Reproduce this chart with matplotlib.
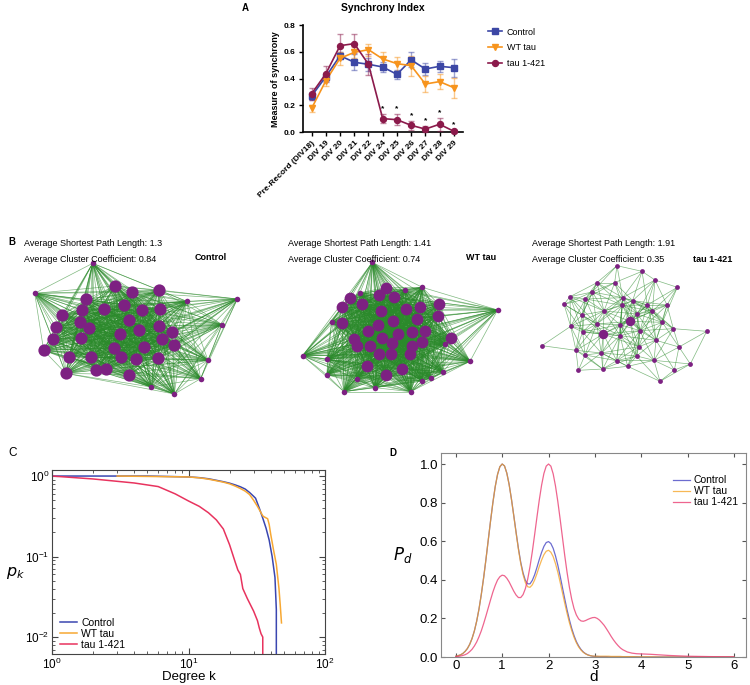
import numpy as np
import matplotlib.pyplot as plt
from matplotlib.collections import LineCollection
from matplotlib.lines import Line2D
from matplotlib.colors import to_rgba

plt.rcParams['font.family'] = ['Liberation Sans', 'DejaVu Sans']
plt.rcParams['mathtext.default'] = 'regular'

# ---------------- data: panel A (synchrony index)
days = ['Pre-Record (DIV18)', 'DIV 19', 'DIV 20', 'DIV 21', 'DIV 22', 'DIV 24',
        'DIV 25', 'DIV 26', 'DIV 27', 'DIV 28', 'DIV 29']
sync_ctrl = [0.271, 0.415, 0.571, 0.522, 0.507, 0.487, 0.432, 0.540, 0.472, 0.492, 0.482]
err_ctrl = [0.030, 0.030, 0.025, 0.060, 0.050, 0.040, 0.035, 0.055, 0.048, 0.040, 0.068]
sync_wt = [0.179, 0.385, 0.552, 0.596, 0.616, 0.547, 0.512, 0.497, 0.360, 0.378, 0.333]
err_wt = [0.028, 0.043, 0.050, 0.040, 0.045, 0.050, 0.052, 0.075, 0.058, 0.055, 0.075]
sync_tau = [0.288, 0.437, 0.646, 0.661, 0.507, 0.102, 0.094, 0.052, 0.024, 0.060, 0.008]
err_tau = [0.045, 0.060, 0.090, 0.070, 0.078, 0.035, 0.042, 0.035, 0.022, 0.050, 0.010]
sig_idx = [5, 6, 7, 8, 9, 10]

# ---------------- data: panel B (network layouts, drawing units)
ctrl_hubs = [(345, 108), (397, 127), (476, 120), (258, 148), (185, 195), (245, 180),
             (311, 177), (371, 165), (426, 180), (479, 177), (386, 209), (240, 215),
             (168, 232), (267, 235), (360, 253), (418, 241), (477, 227), (516, 247),
             (158, 268), (242, 265), (487, 266), (521, 286), (131, 301), (341, 294),
             (433, 290), (206, 320), (274, 322), (362, 322), (407, 328), (474, 323),
             (197, 370), (287, 360), (318, 357), (386, 374)]
ctrl_leaves = [(278, 40), (104, 130), (712, 147), (560, 154), (666, 224), (624, 331),
               (602, 386), (454, 411), (523, 432)]
wt_hubs = [(378, 113), (270, 145), (356, 135), (403, 141), (247, 170), (307, 163),
           (536, 163), (480, 170), (437, 177), (364, 182), (533, 197), (470, 206),
           (400, 213), (246, 220), (354, 225), (325, 244), (415, 252), (456, 247),
           (495, 242), (572, 263), (283, 268), (365, 265), (397, 280), (486, 277),
           (456, 288), (292, 288), (330, 289), (357, 313), (393, 311), (450, 313),
           (320, 348), (427, 357), (377, 374)]
wt_leaves = [(337, 37), (300, 128), (435, 120), (487, 112), (215, 215), (713, 180),
             (555, 283), (128, 317), (200, 328), (630, 334), (200, 374), (290, 386),
             (548, 366), (512, 385), (487, 393), (345, 413), (252, 425), (452, 425)]
tau_hubs = [(250, 252), (330, 214)]
tau_leaves = [(291, 47), (366, 64), (405, 90), (231, 98), (284, 98), (472, 112),
              (150, 140), (217, 126), (196, 147), (308, 143), (338, 152), (132, 163),
              (307, 166), (382, 165), (441, 165), (252, 183), (397, 184), (186, 195),
              (352, 192), (427, 217), (152, 229), (230, 222), (300, 224), (460, 236),
              (560, 244), (188, 246), (360, 242), (300, 257), (408, 271), (66, 287),
              (356, 290), (477, 291), (168, 301), (244, 309), (195, 315), (350, 318),
              (290, 332), (402, 331), (511, 342), (175, 361), (248, 357), (323, 349),
              (463, 360), (420, 394)]
link_radius = {'Control': 400, 'WT tau': 360, 'tau 1-421': 115}
net_stats = {'Control': (1.3, 0.84), 'WT tau': (1.41, 0.74), 'tau 1-421': (1.91, 0.35)}

# ---------------- data: panel C (degree distribution)
k_ctrl = [1, 5, 10, 12, 14, 16, 18, 20, 22, 24, 26, 28, 30, 31, 33, 35, 37, 39, 41, 43, 44, 44]
pk_ctrl = [1.0, 1.0, 0.975, 0.955, 0.925, 0.885, 0.85, 0.815, 0.775, 0.735, 0.69, 0.625,
           0.56, 0.53, 0.40, 0.30, 0.225, 0.16, 0.10, 0.055, 0.022, 1e-4]
k_wt = [3, 10, 12, 14, 16, 18, 20, 22, 24, 26, 28, 30, 32, 34, 35, 36, 38, 39, 40, 42, 44, 46, 47, 48]
pk_wt = [1.0, 0.975, 0.95, 0.915, 0.875, 0.84, 0.80, 0.75, 0.70, 0.65, 0.59, 0.50, 0.42,
         0.35, 0.32, 0.31, 0.295, 0.25, 0.19, 0.12, 0.08, 0.04, 0.025, 0.015]
k_tau = [1, 2, 4, 6, 8, 10, 12, 14, 16, 18, 20, 22, 23, 24, 25, 27, 30, 32, 33, 34, 35, 35]
pk_tau = [1.0, 0.92, 0.82, 0.74, 0.60, 0.49, 0.42, 0.35, 0.285, 0.22, 0.14, 0.085, 0.068,
          0.06, 0.04, 0.03, 0.021, 0.016, 0.013, 0.011, 0.01, 1e-4]

# ---------------- data: panel D (path length distribution)
d_grid = np.round(np.concatenate([np.arange(0, 3.601, 0.05),
                                  [3.7, 3.8, 3.9, 4.0, 4.2, 4.4, 4.6, 4.8, 5.0, 5.5, 6.0]]), 2)
pd_ctrl = [0.004, 0.007, 0.011, 0.018, 0.029, 0.044, 0.066, 0.096, 0.135, 0.186,
           0.249, 0.325, 0.411, 0.506, 0.607, 0.707, 0.801, 0.883, 0.946, 0.986,
           1.000, 0.990, 0.953, 0.894, 0.818, 0.733, 0.646, 0.563, 0.491, 0.436,
           0.397, 0.379, 0.379, 0.397, 0.426, 0.464, 0.505, 0.542, 0.573, 0.593,
           0.598, 0.588, 0.563, 0.524, 0.476, 0.420, 0.360, 0.301, 0.244, 0.193,
           0.148, 0.111, 0.080, 0.057, 0.039, 0.026, 0.017, 0.011, 0.007, 0.004,
           0.003, 0.003, 0.002, 0.002, 0.002, 0.002, 0.001, 0.001, 0.001, 0.001,
           0.001, 0.001, 0.001,
           0.001, 0.001, 0.001, 0.0, 0.0, 0.0, 0.0, 0.0, 0.0, 0.0, 0.0]
pd_wt = [0.004, 0.007, 0.011, 0.018, 0.029, 0.044, 0.066, 0.096, 0.135, 0.186,
         0.249, 0.325, 0.411, 0.506, 0.607, 0.707, 0.801, 0.883, 0.946, 0.986,
         1.000, 0.990, 0.952, 0.893, 0.817, 0.731, 0.643, 0.558, 0.485, 0.427,
         0.386, 0.364, 0.361, 0.374, 0.399, 0.432, 0.469, 0.502, 0.530, 0.548,
         0.553, 0.543, 0.520, 0.484, 0.440, 0.388, 0.333, 0.278, 0.226, 0.178,
         0.137, 0.102, 0.074, 0.052, 0.036, 0.024, 0.016, 0.010, 0.007, 0.005,
         0.004, 0.004, 0.004, 0.004, 0.004, 0.004, 0.004, 0.003, 0.003, 0.003,
         0.003, 0.003, 0.002,
         0.002, 0.002, 0.001, 0.001, 0.001, 0.0, 0.0, 0.0, 0.0, 0.0, 0.0]
pd_tau = [0.002, 0.003, 0.005, 0.008, 0.012, 0.018, 0.028, 0.040, 0.057, 0.078,
          0.105, 0.136, 0.173, 0.213, 0.255, 0.297, 0.337, 0.371, 0.399, 0.416,
          0.424, 0.421, 0.408, 0.389, 0.365, 0.341, 0.321, 0.308, 0.308, 0.323,
          0.354, 0.403, 0.468, 0.546, 0.634, 0.725, 0.813, 0.890, 0.951, 0.989,
          1.000, 0.989, 0.949, 0.886, 0.806, 0.715, 0.620, 0.525, 0.438, 0.362,
          0.299, 0.251, 0.218, 0.197, 0.187, 0.185, 0.189, 0.195, 0.200, 0.204,
          0.205, 0.200, 0.191, 0.178, 0.164, 0.146, 0.127, 0.107, 0.089, 0.073,
          0.059, 0.047, 0.038,
          0.026, 0.020, 0.017, 0.016, 0.014, 0.011, 0.008, 0.006, 0.004, 0.002, 0.001]

W, H = 750, 685
fig = plt.figure(figsize=(W / 100, H / 100), dpi=100)


def fx(px):
    return px / W


def fy(py):
    return 1 - py / H


def rect(x0, y0, x1, y1):
    # pixel box (top-left origin) -> figure fraction
    return [fx(x0), fy(y1), fx(x1) - fx(x0), fy(y0) - fy(y1)]


# ================= A
cA = {'Control': '#3c47a5', 'WT tau': '#f7941d', 'tau 1-421': '#8b1a4b'}
axA = fig.add_axes(rect(302.7, 25, 463, 132.3))
xa = np.arange(len(days))
for vals, errs, lab, mk in [(sync_ctrl, err_ctrl, 'Control', 's'),
                            (sync_wt, err_wt, 'WT tau', 'v'),
                            (sync_tau, err_tau, 'tau 1-421', 'o')]:
    axA.errorbar(xa, vals, yerr=errs, color=cA[lab], ecolor=to_rgba(cA[lab], 0.5),
                 elinewidth=1, capsize=2.2, capthick=1, marker=mk, markersize=4.3,
                 lw=1.2, clip_on=False, zorder=3)
for i in sig_idx:
    axA.text(i, sync_tau[i] + err_tau[i] + 0.012, '*', ha='center', va='bottom',
             fontsize=6, fontweight='bold')
axA.set_xlim(-0.63, 10.65)
axA.set_ylim(0, 0.8)
axA.set_yticks([0, 0.2, 0.4, 0.6, 0.8])
axA.set_yticklabels(['0.0', '0.2', '0.4', '0.6', '0.8'], fontsize=6, fontweight='bold')
axA.set_xticks(xa)
axA.set_xticklabels(days, rotation=45, ha='right', rotation_mode='anchor',
                    fontsize=6, fontweight='bold')
for s in ['top', 'right']:
    axA.spines[s].set_visible(False)
for s in ['left', 'bottom']:
    axA.spines[s].set_linewidth(1.2)
axA.tick_params(direction='out', length=3, width=1, pad=2)
axA.set_ylabel('Measure of synchrony', fontsize=6.5, fontweight='bold', labelpad=3)
handles = [Line2D([0], [0], color=cA[l], marker=m, markersize=4.3, lw=1.2)
           for l, m in [('Control', 's'), ('WT tau', 'v'), ('tau 1-421', 'o')]]
fig.legend(handles, list(cA), loc='upper left', bbox_to_anchor=(fx(484), fy(24)),
           frameon=False, fontsize=6.5, handlelength=1.6, handletextpad=0.5,
           labelspacing=0.75, borderaxespad=0)
fig.text(fx(383), fy(8), 'Synchrony Index', ha='center', va='center',
         fontsize=7.5, fontweight='bold')
fig.text(fx(245), fy(8), 'A', ha='center', va='center', fontsize=7, fontweight='bold')

# ================= B
def draw_network(box, hubs, leaves, radius, hub_s, leaf_s, xmax):
    ax = fig.add_axes(rect(*box))
    pts = np.array(hubs + leaves, dtype=float)
    segs = []
    for i in range(len(pts)):
        for j in range(i + 1, len(pts)):
            if np.hypot(*(pts[i] - pts[j])) < radius:
                segs.append([pts[i], pts[j]])
    ax.add_collection(LineCollection(segs, colors='#2b8a2b', linewidths=0.5, alpha=0.6))
    h = np.array(hubs, dtype=float)
    lv = np.array(leaves, dtype=float)
    ax.scatter(h[:, 0], h[:, 1], s=hub_s, color='#7d2182', linewidths=0, zorder=3)
    ax.scatter(lv[:, 0], lv[:, 1], s=leaf_s, color='#7d2182', linewidths=0, zorder=3)
    ax.set_xlim(0, xmax)
    ax.set_ylim(480, 0)
    ax.axis('off')


draw_network((0, 250, 260, 410), ctrl_hubs, ctrl_leaves, link_radius['Control'], 78, 16, 780)
draw_network((260, 250, 520, 410), wt_hubs, wt_leaves, link_radius['WT tau'], 72, 16, 780)
draw_network((520, 250, 750, 410), tau_hubs, tau_leaves, link_radius['tau 1-421'], 46, 12, 690)

narrow = ['Liberation Sans Narrow', 'Liberation Sans', 'DejaVu Sans']
fig.text(fx(8), fy(242), 'B', ha='left', va='center', fontsize=7, fontweight='bold')
for (name, (spl, cc)), tx, nx, ny in zip(net_stats.items(), [24, 288, 532],
                                          [195, 466, 693], [257, 257, 260]):
    fig.text(fx(tx), fy(243), f'Average Shortest Path Length: {spl}', ha='left',
             va='center', fontsize=6.5, family=narrow)
    fig.text(fx(tx), fy(259), f'Average Cluster Coefficient: {cc}', ha='left',
             va='center', fontsize=6.5, family=narrow)
    fig.text(fx(nx), fy(ny), name, ha='left', va='center', fontsize=6.5,
             fontweight='bold', family=narrow)

# ================= C
cC = {'Control': '#3a46b0', 'WT tau': '#f7a833', 'tau 1-421': '#e8335e'}
axC = fig.add_axes(rect(52, 470, 325, 654))
axC.plot(k_ctrl, pk_ctrl, color=cC['Control'], lw=1.1, label='Control')
axC.plot(k_wt, pk_wt, color=cC['WT tau'], lw=1.1, label='WT tau')
axC.plot(k_tau, pk_tau, color=cC['tau 1-421'], lw=1.1, label='tau 1-421')
axC.set_xscale('log')
axC.set_yscale('log')
axC.set_xlim(1, 100)
axC.set_ylim(10 ** -2.21, 10 ** 0.075)
axC.tick_params(which='both', direction='in', top=True, right=True, labelsize=8.5,
                color='#444444')
axC.tick_params(which='major', length=4, pad=2)
axC.tick_params(which='minor', length=2)
for s in axC.spines.values():
    s.set_color('#444444')
axC.set_xlabel('Degree k', fontsize=9.5, labelpad=-1)
fig.text(fx(16), fy(573), '$\\mathit{p_k}$', ha='center', va='center', fontsize=11.5)
axC.legend(loc='lower left', bbox_to_anchor=(0.015, 0.0), frameon=False, fontsize=7.5,
           handlelength=1.6, handletextpad=0.4, labelspacing=0.1, borderaxespad=0)
fig.text(fx(8), fy(453), 'C', ha='left', va='center', fontsize=8.5)

# ================= D
axD = fig.add_axes(rect(441, 453, 746, 657))
axD.plot(d_grid, pd_ctrl, color='#3b3bc0', lw=0.9, alpha=0.75, label='Control')
axD.plot(d_grid, pd_wt, color='#f5a01e', lw=0.9, alpha=0.75, label='WT tau')
axD.plot(d_grid, pd_tau, color='#ea3f73', lw=0.9, alpha=0.8, label='tau 1-421')
axD.set_xlim(-0.32, 6.26)
axD.set_ylim(0, 1.057)
axD.set_xticks(range(7))
axD.set_yticks([0, 0.2, 0.4, 0.6, 0.8, 1.0])
axD.set_yticklabels(['0.0', '0.2', '0.4', '0.6', '0.8', '1.0'])
axD.tick_params(direction='in', top=True, right=True, length=3, labelsize=9.5,
                color='#555555', pad=2)
for s in axD.spines.values():
    s.set_color('#888888')
axD.set_xlabel('d', fontsize=11, labelpad=-1)
axD.set_ylabel('$\\mathit{P_d}$', fontsize=12, rotation=0, labelpad=12, va='center')
axD.legend(loc='upper left', bbox_to_anchor=((669 - 441) / 305, 1 - 18 / 204),
           frameon=False, fontsize=7.5, handlelength=1.6, handletextpad=0.4,
           labelspacing=0.1, borderaxespad=0)
fig.text(fx(393), fy(453), 'D', ha='center', va='center', fontsize=7, fontweight='bold')

fig.savefig('out.png', dpi=100)
